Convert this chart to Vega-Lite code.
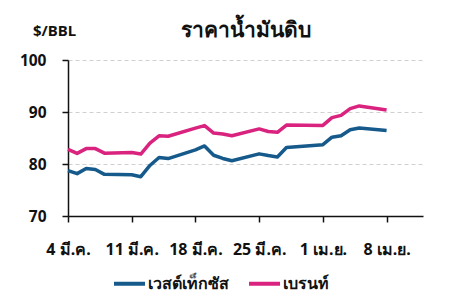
{
  "$schema": "https://vega.github.io/schema/vega-lite/v6.json",
  "autosize": {"type": "none"},
  "width": 355,
  "height": 156,
  "padding": {"left": 68, "top": 60, "right": 42, "bottom": 85},
  "background": "white",
  "config": {
    "font": "Noto Sans",
    "view": {"stroke": null}
  },
  "title": {
    "text": "ราคาน้ำมันดิบ",
    "fontSize": 21,
    "fontWeight": "bold",
    "color": "#111",
    "anchor": "middle",
    "offset": -18
  },
  "data": {
    "values": [
      {"date": "2024-03-04", "series": "เวสต์เท็กซัส", "price": 78.74},
      {"date": "2024-03-05", "series": "เวสต์เท็กซัส", "price": 78.15},
      {"date": "2024-03-06", "series": "เวสต์เท็กซัส", "price": 79.13},
      {"date": "2024-03-07", "series": "เวสต์เท็กซัส", "price": 78.93},
      {"date": "2024-03-08", "series": "เวสต์เท็กซัส", "price": 78.01},
      {"date": "2024-03-11", "series": "เวสต์เท็กซัส", "price": 77.93},
      {"date": "2024-03-12", "series": "เวสต์เท็กซัส", "price": 77.56},
      {"date": "2024-03-13", "series": "เวสต์เท็กซัส", "price": 79.72},
      {"date": "2024-03-14", "series": "เวสต์เท็กซัส", "price": 81.26},
      {"date": "2024-03-15", "series": "เวสต์เท็กซัส", "price": 81.04},
      {"date": "2024-03-18", "series": "เวสต์เท็กซัส", "price": 82.72},
      {"date": "2024-03-19", "series": "เวสต์เท็กซัส", "price": 83.47},
      {"date": "2024-03-20", "series": "เวสต์เท็กซัส", "price": 81.68},
      {"date": "2024-03-21", "series": "เวสต์เท็กซัส", "price": 81.07},
      {"date": "2024-03-22", "series": "เวสต์เท็กซัส", "price": 80.63},
      {"date": "2024-03-25", "series": "เวสต์เท็กซัส", "price": 81.95},
      {"date": "2024-03-26", "series": "เวสต์เท็กซัส", "price": 81.62},
      {"date": "2024-03-27", "series": "เวสต์เท็กซัส", "price": 81.35},
      {"date": "2024-03-28", "series": "เวสต์เท็กซัส", "price": 83.17},
      {"date": "2024-04-01", "series": "เวสต์เท็กซัส", "price": 83.71},
      {"date": "2024-04-02", "series": "เวสต์เท็กซัส", "price": 85.15},
      {"date": "2024-04-03", "series": "เวสต์เท็กซัส", "price": 85.43},
      {"date": "2024-04-04", "series": "เวสต์เท็กซัส", "price": 86.59},
      {"date": "2024-04-05", "series": "เวสต์เท็กซัส", "price": 86.91},
      {"date": "2024-04-08", "series": "เวสต์เท็กซัส", "price": 86.43},
      {"date": "2024-03-04", "series": "เบรนท์", "price": 82.80},
      {"date": "2024-03-05", "series": "เบรนท์", "price": 82.04},
      {"date": "2024-03-06", "series": "เบรนท์", "price": 82.96},
      {"date": "2024-03-07", "series": "เบรนท์", "price": 82.96},
      {"date": "2024-03-08", "series": "เบรนท์", "price": 82.08},
      {"date": "2024-03-11", "series": "เบรนท์", "price": 82.21},
      {"date": "2024-03-12", "series": "เบรนท์", "price": 81.92},
      {"date": "2024-03-13", "series": "เบรนท์", "price": 84.03},
      {"date": "2024-03-14", "series": "เบรนท์", "price": 85.42},
      {"date": "2024-03-15", "series": "เบรนท์", "price": 85.34},
      {"date": "2024-03-18", "series": "เบรนท์", "price": 86.89},
      {"date": "2024-03-19", "series": "เบรนท์", "price": 87.38},
      {"date": "2024-03-20", "series": "เบรนท์", "price": 85.95},
      {"date": "2024-03-21", "series": "เบรนท์", "price": 85.78},
      {"date": "2024-03-22", "series": "เบรนท์", "price": 85.43},
      {"date": "2024-03-25", "series": "เบรนท์", "price": 86.75},
      {"date": "2024-03-26", "series": "เบรนท์", "price": 86.25},
      {"date": "2024-03-27", "series": "เบรนท์", "price": 86.09},
      {"date": "2024-03-28", "series": "เบรนท์", "price": 87.48},
      {"date": "2024-04-01", "series": "เบรนท์", "price": 87.42},
      {"date": "2024-04-02", "series": "เบรนท์", "price": 88.92},
      {"date": "2024-04-03", "series": "เบรนท์", "price": 89.35},
      {"date": "2024-04-04", "series": "เบรนท์", "price": 90.65},
      {"date": "2024-04-05", "series": "เบรนท์", "price": 91.17},
      {"date": "2024-04-08", "series": "เบรนท์", "price": 90.38}
    ]
  },
  "mark": {"type": "line", "strokeWidth": 3.5, "strokeJoin": "round", "interpolate": "linear"},
  "encoding": {
    "x": {
      "field": "date",
      "type": "temporal",
      "scale": {"type": "utc", "domain": [{"year": 2024, "month": 3, "date": 4, "utc": true}, {"year": 2024, "month": 4, "date": 12, "utc": true}]},
      "axis": {
        "title": null,
        "values": [
          {"year": 2024, "month": 3, "date": 4, "utc": true},
          {"year": 2024, "month": 3, "date": 11, "utc": true},
          {"year": 2024, "month": 3, "date": 18, "utc": true},
          {"year": 2024, "month": 3, "date": 25, "utc": true},
          {"year": 2024, "month": 4, "date": 1, "utc": true},
          {"year": 2024, "month": 4, "date": 8, "utc": true}
        ],
        "labelExpr": "utcdate(datum.value) + ' ' + (utcmonth(datum.value) == 2 ? 'มี.ค.' : 'เม.ย.')",
        "grid": false,
        "domainColor": "#111",
        "domainWidth": 1.5,
        "tickColor": "#111",
        "tickSize": 6,
        "tickWidth": 1.5,
        "labelFontSize": 16,
        "labelFontWeight": "bold",
        "labelColor": "#111",
        "labelPadding": 19,
        "labelFlush": false,
        "labelOverlap": false
      }
    },
    "y": {
      "field": "price",
      "type": "quantitative",
      "scale": {"domain": [70, 100], "zero": false, "nice": false},
      "axis": {
        "title": "$/BBL",
        "titleAngle": 0,
        "titleAlign": "center",
        "titleBaseline": "alphabetic",
        "titleX": -14,
        "titleY": -25,
        "titleFontSize": 15,
        "titleFontWeight": "bold",
        "titleColor": "#111",
        "values": [70, 80, 90, 100],
        "grid": true,
        "gridDash": [4, 3],
        "gridColor": "#d0d0d0",
        "gridWidth": 1,
        "domainColor": "#111",
        "domainWidth": 1.5,
        "tickColor": "#111",
        "tickSize": 6,
        "tickWidth": 1.5,
        "labelFontSize": 15.5,
        "labelFontWeight": "bold",
        "labelColor": "#111",
        "labelPadding": 16
      }
    },
    "color": {
      "field": "series",
      "type": "nominal",
      "scale": {"domain": ["เวสต์เท็กซัส", "เบรนท์"], "range": ["#165a8c", "#d9237f"]},
      "legend": {
        "title": null,
        "orient": "none",
        "direction": "horizontal",
        "legendX": 44,
        "legendY": 206,
        "symbolType": "stroke",
        "symbolSize": 961,
        "symbolStrokeWidth": 4,
        "labelFontSize": 16,
        "labelFontWeight": "bold",
        "labelColor": "#111",
        "labelOffset": 1,
        "columnPadding": 12
      }
    }
  }
}
